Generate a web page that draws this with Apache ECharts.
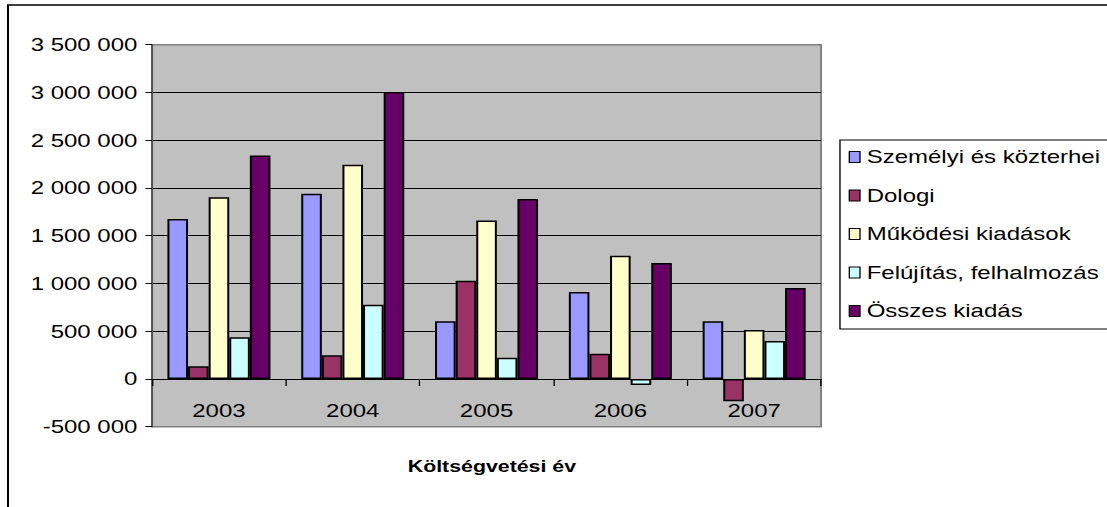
<!DOCTYPE html>
<html>
<head>
<meta charset="utf-8">
<script src="https://cdn.jsdelivr.net/npm/echarts@6/dist/echarts.min.js"></script>
<style>
  html, body { margin: 0; padding: 0; background: #ffffff; overflow: hidden; }
  /* the chart is laid out at 830px and widened to fill the 1107px page */
  #chart { width: 830px; height: 507px; transform: scaleX(1.33373); transform-origin: 0 0; }
</style>
</head>
<body>
<div id="chart"></div>
<script>
// Költségvetési adatok (Ft)
const categories = ['2003', '2004', '2005', '2006', '2007'];
const szemelyi  = [1675000, 1940000,  603000,  911000,  603000];
const dologi    = [ 132000,  247000, 1029000,  265000, -234000];
const mukodesi  = [1902000, 2244000, 1658000, 1291000,  513000];
const felujitas = [ 436000,  778000,  223000,  -63000,  398000];
const osszes    = [2341000, 3005000, 1885000, 1215000,  953000];

const seriesNames = ['Személyi és közterhei', 'Dologi', 'Működési kiadások', 'Felújítás, felhalmozás', 'Összes kiadás'];
const seriesData = [szemelyi, dologi, mukodesi, felujitas, osszes];
const seriesColors = ['#9999FF', '#993366', '#FFFFCC', '#CCFFFF', '#660066'];

const FONT = '"Liberation Sans", Arial, sans-serif';

function spaced(v) {
  const s = Math.abs(v).toString().replace(/\B(?=(\d{3})+(?!\d))/g, ' ');
  return (v < 0 ? '-' : '') + s;
}

const chart = echarts.init(document.getElementById('chart'), null, { renderer: 'svg' });

chart.setOption({
  animation: false,
  backgroundColor: '#ffffff',
  textStyle: { fontFamily: FONT, color: '#000' },
  graphic: [{
    type: 'rect',
    shape: { x: 6, y: 5, width: 900, height: 600 },
    style: { fill: 'none', stroke: '#000', lineWidth: 1.5 },
    silent: true,
    z: 100
  }],
  grid: {
    left: 114, right: 214.4, top: 44.7, bottom: 80.3,
    outerBoundsMode: 'none',
    show: true,
    backgroundColor: '#C0C0C0',
    borderColor: '#808080',
    borderWidth: 1.5,
    containLabel: false
  },
  legend: {
    orient: 'vertical',
    left: 629.8,
    top: 140,
    padding: [8, 12, 9, 6.5],
    itemGap: 20.5,
    itemWidth: 8,
    itemHeight: 11,
    icon: 'rect',
    backgroundColor: '#ffffff',
    borderColor: '#000',
    borderWidth: 1,
    borderRadius: 0,
    textStyle: { fontFamily: FONT, fontSize: 18, color: '#000', lineHeight: 18 },
    itemStyle: { borderColor: '#000', borderWidth: 1 },
    data: seriesNames
  },
  xAxis: {
    type: 'category',
    data: categories,
    boundaryGap: true,
    name: 'Költségvetési év',
    nameLocation: 'middle',
    nameGap: 32,
    nameTextStyle: { fontFamily: FONT, fontSize: 16, fontWeight: 'bold', color: '#000', padding: [0, 0, 0, 8] },
    axisLine: { onZero: true, lineStyle: { color: '#000', width: 1 } },
    axisTick: { show: true, alignWithLabel: false, length: 7, lineStyle: { color: '#000' } },
    axisLabel: { fontFamily: FONT, fontSize: 18, color: '#000', margin: -25 },
    splitLine: { show: false }
  },
  yAxis: {
    type: 'value',
    min: -500000,
    max: 3500000,
    interval: 500000,
    axisLine: { show: true, lineStyle: { color: '#555', width: 1.5 } },
    axisTick: { show: true, length: 5, lineStyle: { color: '#000' } },
    axisLabel: { fontFamily: FONT, fontSize: 18, color: '#000', margin: 11, formatter: spaced },
    splitLine: {
      show: true,
      lineStyle: {
        color: ['#808080', '#000', '#000', '#000', '#000', '#000', '#000', '#000', '#808080'],
        width: 1
      }
    }
  },
  series: seriesNames.map((name, i) => ({
    name: name,
    type: 'bar',
    data: seriesData[i],
    barGap: '0%',
    barCategoryGap: '23%',
    itemStyle: { color: seriesColors[i], borderColor: '#000', borderWidth: 1.5 }
  }))
});
</script>
</body>
</html>
